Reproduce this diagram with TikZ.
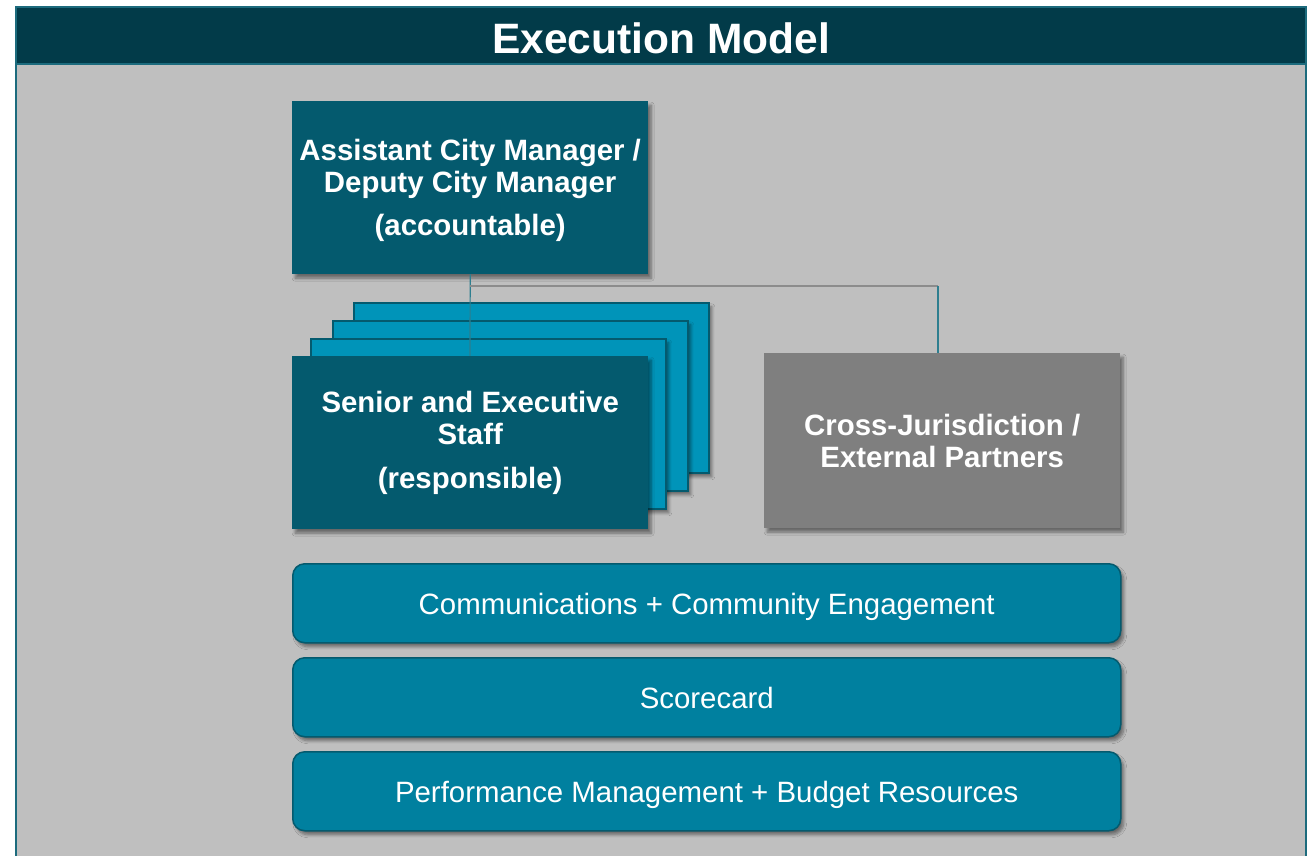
\documentclass[tikz,border=0pt]{standalone}
\usepackage{fontspec}
\setmainfont{Liberation Sans}
\usetikzlibrary{shadows.blur}
\definecolor{titledark}{HTML}{023B49}
\definecolor{framec}{HTML}{1C6B7D}
\definecolor{bodygray}{HTML}{BFBFBF}
\definecolor{darkteal}{HTML}{045A6E}
\definecolor{lightteal}{HTML}{0094B9}
\definecolor{midgray}{HTML}{7F7F7F}
\definecolor{barteal}{HTML}{00809F}
\definecolor{connteal}{HTML}{2E7E8F}
\definecolor{conngray}{HTML}{8C8C8C}
\tikzset{
  shd/.style={blur shadow={shadow xshift=3pt, shadow yshift=-4pt, shadow blur steps=6, shadow opacity=45, shadow blur radius=3pt}},
  boxbase/.style={anchor=north west, inner sep=0pt, align=center, text=white, font=\bfseries\fontsize{29.4}{32}\selectfont, shd},
  mainbox/.style={boxbase, fill=darkteal, minimum width=356pt, minimum height=173pt},
  backbox/.style={anchor=north west, inner sep=0pt, fill=lightteal, draw=darkteal, line width=1.5pt, minimum width=355pt, minimum height=170pt, shd},
  partnerbox/.style={boxbase, fill=midgray, minimum width=356pt, minimum height=175pt},
  barbox/.style={anchor=north west, inner sep=0pt, fill=barteal, draw=darkteal, line width=1.5pt, rounded corners=12pt, minimum width=828pt, minimum height=79pt, text=white, font=\fontsize{29.4}{32}\selectfont, text height=22pt, text depth=0pt, shd},
  connT/.style={draw=connteal, line width=1.2pt},
  connG/.style={draw=conngray, line width=1.2pt}
}
\begin{document}
\begin{tikzpicture}[x=1pt,y=-1pt]
\useasboundingbox (0,0) rectangle (1312,855);
\fill[white] (0,0) rectangle (1312,855);
% frame
\draw[fill=bodygray, draw=framec, line width=2pt] (16,7) rectangle (1306,900);
\fill[titledark] (17,8) rectangle (1305,64);
\draw[framec, line width=2pt] (16,64) -- (1306,64);
\node[text=white, font=\bfseries\fontsize{42.5}{46}\selectfont] (title) at (661,38) {Execution Model};
% accountable
\node[mainbox, text depth=0pt] (acm) at (292,101) {Assistant City Manager /\\Deputy City Manager\\[11pt](accountable)};
% stacked back boxes
\node[backbox] (s3) at (353,302) {};
\node[backbox] (s2) at (332,320) {};
\node[backbox] (s1) at (310,338) {};
% connectors
\coordinate (j1) at (470,286);
\coordinate (j2) at (938,286);
\coordinate (sentop) at (470,356);
\draw[connT] (acm.south) -- (sentop);
\draw[connG] (j1) -- (j2);
% front box
\node[mainbox] (senior) at (292,356) {Senior and Executive\\Staff\\[12pt](responsible)};
% partners
\node[partnerbox] (cross) at (764,353) {Cross-Jurisdiction /\\External Partners};
\draw[connT] (j2) -- (j2 |- cross.north);
% bars
\node[barbox] (comm) at (292,563) {Communications + Community Engagement};
\node[barbox] (score) at (292,657) {Scorecard};
\node[barbox] (perf) at (292,751) {Performance Management + Budget Resources};
\end{tikzpicture}
\end{document}
